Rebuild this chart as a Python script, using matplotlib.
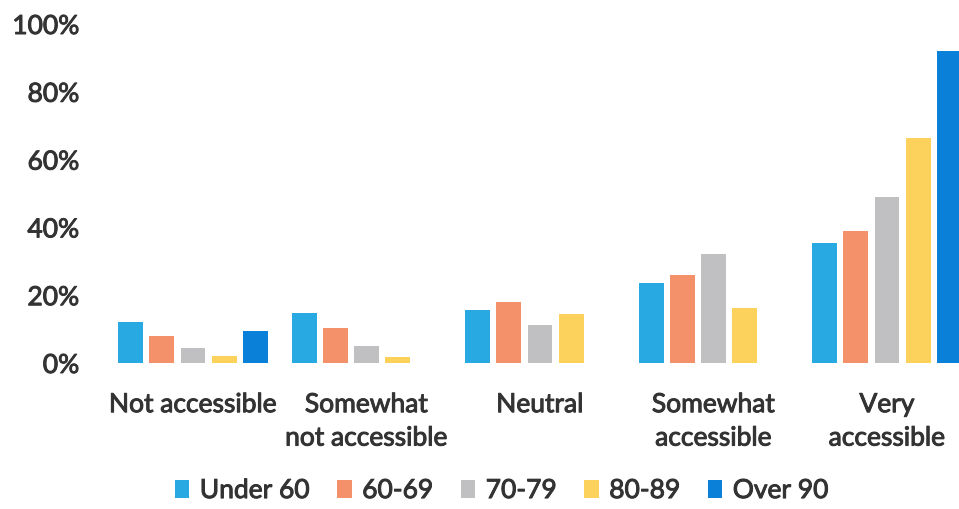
import matplotlib
matplotlib.use("Agg")
import matplotlib.pyplot as plt
import matplotlib.patheffects as pe
import numpy as np
from matplotlib.ticker import PercentFormatter

categories = ["Not accessible", "Somewhat\nnot accessible", "Neutral", "Somewhat\naccessible", "Very\naccessible"]
series_names = ["Under 60", "60-69", "70-79", "80-89", "Over 90"]
under_60 = [12, 14.8, 15.7, 23.7, 35.5]
age_60_69 = [8, 10.3, 18, 26, 38.8]
age_70_79 = [4.4, 5, 11.2, 32.2, 49]
age_80_89 = [2, 1.8, 14.5, 16.3, 66.5]
over_90 = [9.5, 0, 0, 0, 92]
y_ticks = [0, 20, 40, 60, 80, 100]

colors = ["#29A9E1", "#F4916A", "#C0C0C2", "#FCD15C", "#0A80D8"]
series = [under_60, age_60_69, age_70_79, age_80_89, over_90]

plt.rcParams['font.family'] = ['Lato', 'DejaVu Sans']
FS = 19
TXT = "#333333"
thick = [pe.withStroke(linewidth=0.7, foreground=TXT)]

fig = plt.figure(figsize=(9.59, 5.09), dpi=100)
ax = fig.add_axes([100/959, (509-363)/509, 1 - 100/959, (363-24)/509])

x = np.arange(len(categories))
step = 0.179
width = 0.144
for i, (name, vals, c) in enumerate(zip(series_names, series, colors)):
    ax.bar(x + (i - 2) * step, vals, width=width, color=c, label=name)

ax.set_xlim(-0.536, 4.415)
ax.set_ylim(0, 100)
ax.set_yticks(y_ticks)
ax.yaxis.set_major_formatter(PercentFormatter(decimals=0))
ax.set_xticks(x)
ax.set_xticklabels(categories, fontsize=FS, color=TXT, linespacing=1.42)
for lab in ax.get_xticklabels() + ax.get_yticklabels():
    lab.set_fontsize(FS)
    lab.set_color(TXT)
    lab.set_path_effects(thick)
ax.tick_params(axis="y", length=0, pad=15)
ax.tick_params(axis="x", length=0, pad=21)
for s in ax.spines.values():
    s.set_visible(False)

leg = fig.legend(loc="lower center", bbox_to_anchor=(0.523, -0.035), ncol=5, frameon=False,
                 prop={"size": FS}, handlelength=0.55, handleheight=0.7,
                 handletextpad=0.4, columnspacing=1.05, labelcolor=TXT)
for t in leg.get_texts():
    t.set_path_effects(thick)

fig.savefig("out.png", dpi=100)
